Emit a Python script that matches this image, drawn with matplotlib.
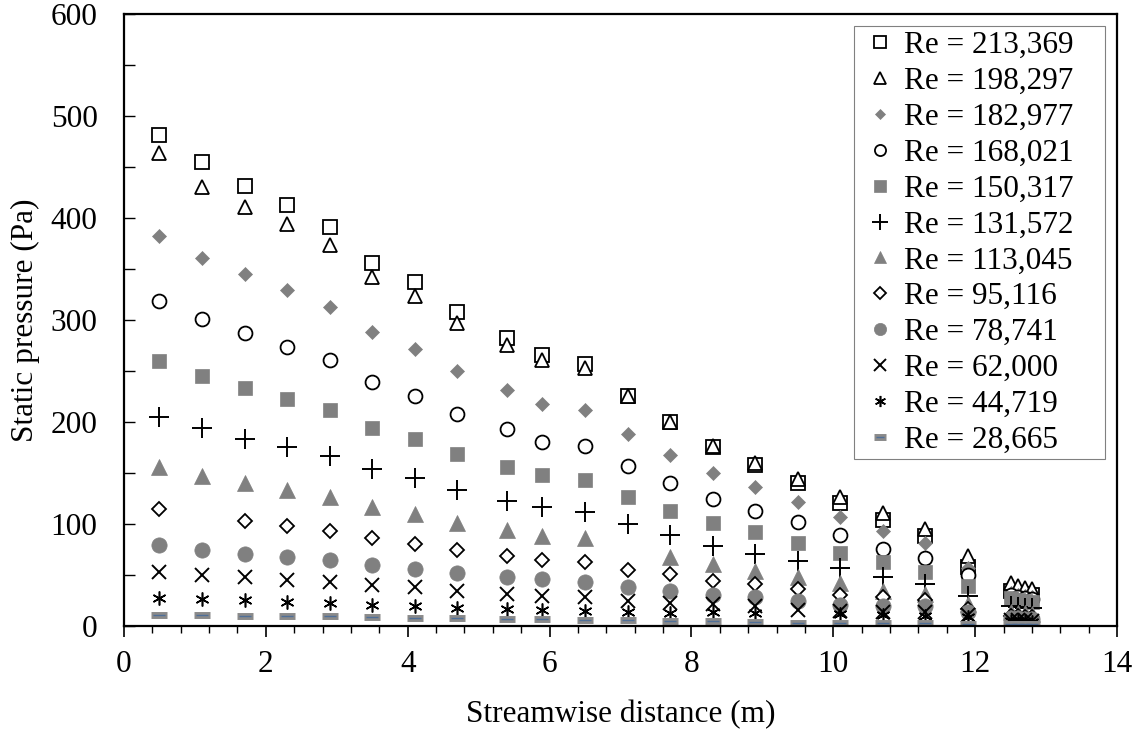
import numpy as np
import matplotlib
matplotlib.use("Agg")
import matplotlib.pyplot as plt
from matplotlib.ticker import MultipleLocator

plt.rcParams['font.family'] = ['Liberation Serif', 'DejaVu Serif']

nan = np.nan

# Streamwise positions of the pressure taps (m)
x_m = [0.5, 1.1, 1.7, 2.3, 2.9, 3.5, 4.1, 4.7, 5.4, 5.9, 6.5, 7.1,
       7.7, 8.3, 8.9, 9.5, 10.1, 10.7, 11.3, 11.9, 12.5, 12.6, 12.7, 12.8]

# Static pressure (Pa) per Reynolds number
p_213369 = [482, 455, 432, 413, 391, 356, 337, 308, 283, 266, 257, 226,
            200, 176, 158, 140, 121, 104, 88, 58, 35, 33, 32, 31]
p_198297 = [464, 431, 411, 394, 374, 342, 324, 297, 276, 261, 253, 226,
            200, 177, 160, 144, 127, 111, 95, 69, 42, 39, 37, 36]
p_182977 = [383, 361, 345, 330, 313, 288, 272, 250, 232, 218, 212, 188,
            168, 150, 136, 122, 107, 93, 82, 57, 33, 31, 30, 29]
p_168021 = [319, 301, 287, 274, 261, 239, 226, 208, 193, 181, 177, 157,
            140, 125, 113, 102, 89, 76, 67, 50, 31, 29, 28, 27]
p_150317 = [260, 245, 234, 223, 212, 194, 184, 169, 156, 148, 143, 127,
            113, 101, 92, 82, 72, 63, 53, 39, 28, 26, 25, 24]
p_131572 = [205, 194, 184, 176, 167, 154, 145, 134, 123, 117, 112, 100,
            89, 79, 71, 64, 57, 48, 41, 30, 20, 19, 18, 18]
p_113045 = [156, 147, 140, 134, 127, 117, 110, 101, 94, 88, 86, nan,
            68, 61, 54, 48, 42, 35, 32, 22, 14, 13, 13, 12]
p_95116 = [115, nan, 103, 98, 93, 86, 81, 75, 69, 65, 63, 55,
           51, 44, 41, 36, 31, 29, 26, 17, 10, 10, 9, 9]
p_78741 = [80, 75, 71, 68, 65, 60, 56, 52, 48, 46, 43, 38,
           35, 31, 29, 25, 21, 20, 20, 14, 8, 8, 7, 7]
p_62000 = [53, 50, 48, 45, 43, 40, 38, 35, 32, 30, 29, 25,
           23, 22, 20, 16, 15, 14, 14, 11, 6, 6, 6, 5]
p_44719 = [28, 27, 26, 24, 23, 21, 20, 18, 17, 16, 15, 14,
           13, 14, 13, nan, 12, 11, 10, 9, 5, 5, 5, 4]
p_28665 = [11, 10.6, 10.3, 10, 9.7, 9, 8.4, 8, 7, 6.7, 6.4, 5.7,
           5.1, 4.8, 4.1, 3.4, 2.8, 3, 3, 2.4, 2, 2, 2, 2]

labels = ['Re = 213,369', 'Re = 198,297', 'Re = 182,977', 'Re = 168,021',
          'Re = 150,317', 'Re = 131,572', 'Re = 113,045', 'Re = 95,116',
          'Re = 78,741', 'Re = 62,000', 'Re = 44,719', 'Re = 28,665']

gris = '#808080'
fs = 22.5

fig = plt.figure(figsize=(11.44, 7.29), dpi=100)
ax = fig.add_axes([0.1084, 0.141, 0.868, 0.8395])

# estilo de cada serie: (marker, size, face, edge, edge width)
estilos = [
    ('s', 10, 'white', 'black', 1.3),
    ('^', 10, 'white', 'black', 1.3),
    ('D', 7, gris, gris, 0.5),
    ('o', 10, 'white', 'black', 1.3),
    ('s', 10.5, gris, gris, 0.5),
    ('+', 14, 'black', 'black', 1.4),
    ('^', 11.5, gris, gris, 0.5),
    ('D', 7.5, 'white', 'black', 1.3),
    ('o', 11, gris, gris, 0.5),
    ('x', 10.5, 'black', 'black', 1.4),
    ((6, 2, 0), 10, 'black', 'black', 1.15),
]
series = [p_213369, p_198297, p_182977, p_168021, p_150317, p_131572,
          p_113045, p_95116, p_78741, p_62000, p_44719]

handles = []
for datos, (mk, ms, fc, ec, mew) in zip(series, estilos):
    h, = ax.plot(x_m, datos, linestyle='none', marker=mk, markersize=ms,
                 markerfacecolor=fc, markeredgecolor=ec, markeredgewidth=mew)
    handles.append(h)

# Re = 28,665: gray dash with a thin blue line on top
h1, = ax.plot(x_m, p_28665, linestyle='none', marker='_', markersize=11,
              markeredgewidth=5, color='#8a8a8a')
h2, = ax.plot(x_m, p_28665, linestyle='none', marker='_', markersize=8,
              markeredgewidth=1.0, color='#4f6f98')
handles.append((h1, h2))

ax.set_xlim(0, 14)
ax.set_ylim(0, 600)
ax.xaxis.set_major_locator(MultipleLocator(2))
ax.xaxis.set_minor_locator(MultipleLocator(0.4))
ax.yaxis.set_major_locator(MultipleLocator(100))
ax.yaxis.set_minor_locator(MultipleLocator(50))
ax.tick_params(axis='x', which='major', direction='out', length=8, width=1.2,
               labelsize=fs, pad=9)
ax.tick_params(axis='x', which='minor', direction='out', length=5, width=1)
ax.tick_params(axis='y', which='both', direction='in', length=8, width=1,
               labelsize=fs, pad=19)
for s in ax.spines.values():
    s.set_linewidth(1.6)

ax.set_xlabel('Streamwise distance (m)', fontsize=fs, labelpad=15)
ax.set_ylabel('Static pressure (Pa)', fontsize=fs, labelpad=8)

leg = ax.legend(handles, labels, loc='upper left',
                bbox_to_anchor=(0.735, 0.0, 0.253, 0.980), mode='expand',
                borderaxespad=0, fontsize=fs, markerscale=0.8, numpoints=1,
                handlelength=1.4, handletextpad=0.05, labelspacing=0.22,
                borderpad=0.15, fancybox=False, framealpha=1, edgecolor=gris)
leg.get_frame().set_linewidth(0.8)

fig.savefig('out.png', dpi=100)
